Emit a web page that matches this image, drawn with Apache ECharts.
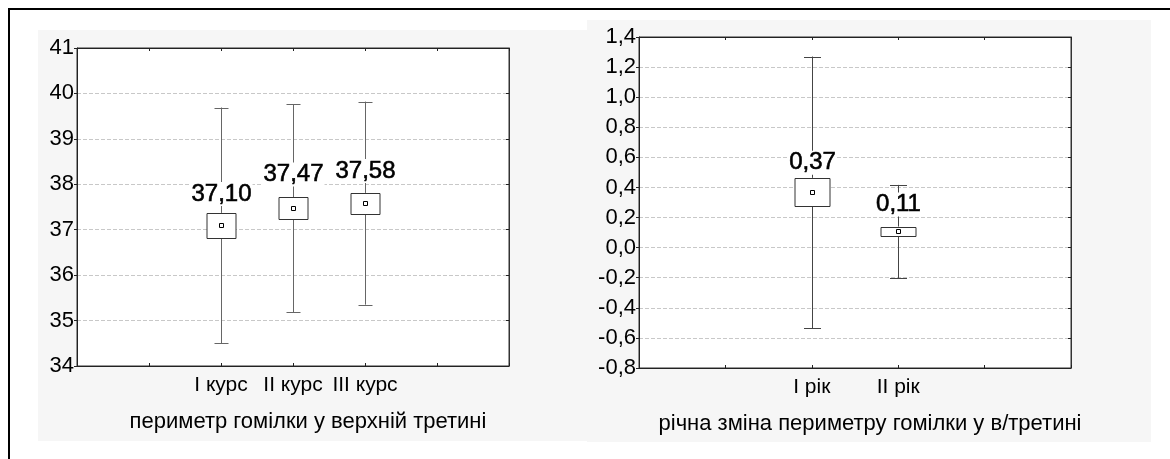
<!DOCTYPE html>
<html><head><meta charset="utf-8">
<script src="https://cdn.jsdelivr.net/npm/echarts@6/dist/echarts.min.js"></script>
<style>
html,body{margin:0;padding:0;background:#fff;}
#wrap{position:relative;width:1170px;height:459px;overflow:hidden;}
#frame{position:absolute;left:8px;top:8px;width:1200px;height:500px;border-top:2px solid #000;border-left:2px solid #000;}
.panel{position:absolute;background:#f6f6f6;}
#c{position:absolute;left:0;top:0;width:1170px;height:459px;}
</style>
</head><body>
<div id="wrap">
  <div id="frame"></div>
  <div class="panel" style="left:38px;top:30px;width:549px;height:411px;"></div>
  <div class="panel" style="left:587px;top:20px;width:564px;height:422px;"></div>
  <div id="c"></div>
</div>
<script>
// ---- data ----
const leftTicks = ['', '', 'I курс', 'II курс', 'III курс', '', ''];
const leftCategories = ['I курс', 'II курс', 'III курс'];
const leftMean = [37.10, 37.47, 37.58];
const leftBoxLow = [36.82, 37.23, 37.34];
const leftBoxHigh = [37.37, 37.71, 37.81];
const leftWhiskerLow = [34.50, 35.18, 35.35];
const leftWhiskerHigh = [39.69, 39.76, 39.82];
const leftLabels = ['37,10', '37,47', '37,58'];
const leftTitle = 'периметр гомілки у верхній третині';

const rightTicks = ['', '', 'I рік', 'II рік', '', ''];
const rightCategories = ['I рік', 'II рік'];
const rightMean = [0.37, 0.11];
const rightBoxLow = [0.275, 0.075];
const rightBoxHigh = [0.464, 0.140];
const rightWhiskerLow = [-0.535, -0.202];
const rightWhiskerHigh = [1.27, 0.417];
const rightLabels = ['0,37', '0,11'];
const rightTitle = 'річна зміна периметру гомілки у в/третині';

// ---- styling (not data) ----
const FONT = "'Liberation Sans', Arial, sans-serif";
const labelGapLeft = [7, 11, 10];
const labelGapRight = [3, 10];

function buildData(ticks, cats, wl, bl, m, bh, wh) {
  return cats.map((c, i) => [ticks.indexOf(c), wl[i], bl[i], m[i], bh[i], wh[i], i]);
}

function makeRender(boxW, capW, labels, gaps, whiskerColor) {
  return function (params, api) {
    const x = api.value(0);
    const P = v => api.coord([x, v]);
    const lo = P(api.value(1)), bl = P(api.value(2)), m = P(api.value(3)), bh = P(api.value(4)), hi = P(api.value(5));
    const idx = api.value(6);
    const cx = Math.round(lo[0]) + 0.5;
    const ls = { stroke: whiskerColor, lineWidth: 1 };
    const bs = { fill: '#fff', stroke: '#333', lineWidth: 1 };
    return {
      type: 'group',
      children: [
        { type: 'line', shape: { x1: cx, y1: hi[1], x2: cx, y2: bh[1] }, style: ls },
        { type: 'line', shape: { x1: cx, y1: bl[1], x2: cx, y2: lo[1] }, style: ls },
        { type: 'line', shape: { x1: cx - capW / 2, y1: Math.round(hi[1]) + 0.5, x2: cx + capW / 2, y2: Math.round(hi[1]) + 0.5 }, style: ls },
        { type: 'line', shape: { x1: cx - capW / 2, y1: Math.round(lo[1]) + 0.5, x2: cx + capW / 2, y2: Math.round(lo[1]) + 0.5 }, style: ls },
        { type: 'rect', shape: { x: cx - boxW / 2, y: Math.round(bh[1]) + 0.5, width: boxW, height: Math.round(bl[1]) - Math.round(bh[1]) }, style: bs },
        { type: 'rect', shape: { x: cx - 2, y: Math.round(m[1]) - 1.5, width: 4, height: 4 }, style: { fill: '#fff', stroke: '#000', lineWidth: 1 } },
        { type: 'text', style: {
            text: labels[idx], x: cx, y: bh[1] - gaps[idx],
            align: 'center', verticalAlign: 'bottom',
            font: '24px ' + FONT, fill: '#000', stroke: '#000', lineWidth: 0.6,
            backgroundColor: '#fff', padding: [0, 1, 0, 1]
          } }
      ]
    };
  };
}

const tickTxt = { color: '#000', fontFamily: FONT, fontSize: 22 };
const catTxt = { color: '#000', fontFamily: FONT, fontSize: 21 };
const nameTxt = { color: '#000', fontFamily: FONT, fontSize: 22, padding: [0, 0, 0, 30] };
function fmtComma(v) {
  if (Math.abs(v) < 1e-9) return '0,0';
  return v.toFixed(1).replace('.', ',');
}
const axLine = { show: true, onZero: false, lineStyle: { color: '#222' } };
const axLine2 = { show: true, onZero: false, lineStyle: { color: '#333' } };
const tickIn = { show: true, inside: true, length: 3, lineStyle: { color: '#222' } };
const tickOut = { show: true, inside: false, length: 3, lineStyle: { color: '#222' } };
const grid = { show: true, showMinLine: false, showMaxLine: false, lineStyle: { color: '#c8c8c8', type: [4, 2] } };

const chart = echarts.init(document.getElementById('c'), null, { renderer: 'canvas' });
chart.setOption({
  animation: false,
  backgroundColor: 'transparent',
  grid: [
    { left: 77, top: 48, width: 432, height: 318, show: true, backgroundColor: '#fff', borderColor: '#333', borderWidth: 1 },
    { left: 639, top: 37, width: 432, height: 331, show: true, backgroundColor: '#fff', borderColor: '#333', borderWidth: 1 }
  ],
  xAxis: [
    { gridIndex: 0, type: 'value', min: 0, max: leftTicks.length - 1, interval: 1, position: 'bottom',
      axisLine: axLine, axisTick: tickIn,
      axisLabel: Object.assign({ margin: 9, formatter: v => leftTicks[v] || '' }, catTxt),
      splitLine: { show: false },
      name: leftTitle, nameLocation: 'middle', nameGap: 45, nameTextStyle: nameTxt },
    { gridIndex: 0, type: 'value', min: 0, max: leftTicks.length - 1, interval: 1, position: 'top',
      axisLine: axLine, axisTick: tickIn, axisLabel: { show: false }, splitLine: { show: false } },
    { gridIndex: 1, type: 'value', min: 0, max: rightTicks.length - 1, interval: 1, position: 'bottom',
      axisLine: axLine, axisTick: tickIn,
      axisLabel: Object.assign({ margin: 9, formatter: v => rightTicks[v] || '' }, catTxt),
      splitLine: { show: false },
      name: rightTitle, nameLocation: 'middle', nameGap: 45, nameTextStyle: nameTxt },
    { gridIndex: 1, type: 'value', min: 0, max: rightTicks.length - 1, interval: 1, position: 'top',
      axisLine: axLine, axisTick: tickIn, axisLabel: { show: false }, splitLine: { show: false } }
  ],
  yAxis: [
    { gridIndex: 0, type: 'value', min: 34, max: 41, interval: 1, position: 'left',
      axisLine: axLine, axisTick: tickOut,
      axisLabel: Object.assign({ margin: 3 }, tickTxt), splitLine: grid },
    { gridIndex: 0, type: 'value', min: 34, max: 41, interval: 1, position: 'right',
      axisLine: axLine2, axisTick: tickIn, axisLabel: { show: false }, splitLine: { show: false } },
    { gridIndex: 1, type: 'value', min: -0.8, max: 1.4, interval: 0.2, position: 'left',
      axisLine: axLine, axisTick: tickOut,
      axisLabel: Object.assign({ margin: 3, formatter: fmtComma }, tickTxt), splitLine: grid },
    { gridIndex: 1, type: 'value', min: -0.8, max: 1.4, interval: 0.2, position: 'right',
      axisLine: axLine2, axisTick: tickIn, axisLabel: { show: false }, splitLine: { show: false } }
  ],
  series: [
    { type: 'custom', xAxisIndex: 0, yAxisIndex: 0, z: 10,
      renderItem: makeRender(29, 14, leftLabels, labelGapLeft, '#666'),
      data: buildData(leftTicks, leftCategories, leftWhiskerLow, leftBoxLow, leftMean, leftBoxHigh, leftWhiskerHigh) },
    { type: 'custom', xAxisIndex: 2, yAxisIndex: 2, z: 10,
      renderItem: makeRender(35, 17, rightLabels, labelGapRight, '#444'),
      data: buildData(rightTicks, rightCategories, rightWhiskerLow, rightBoxLow, rightMean, rightBoxHigh, rightWhiskerHigh) }
  ]
});
</script>
</body></html>
